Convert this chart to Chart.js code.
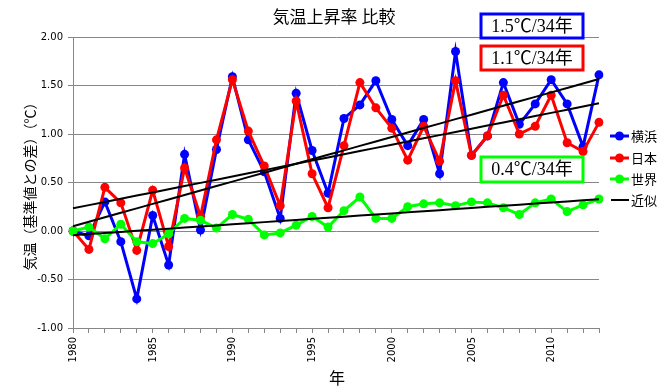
<!DOCTYPE html>
<html><head><meta charset="utf-8">
<script src="https://cdn.jsdelivr.net/npm/chart.js@4/dist/chart.umd.min.js"></script>
<style>html,body{margin:0;padding:0;background:#fff;}#wrap{width:665px;height:390px;}</style>
</head><body><div id="wrap"><canvas id="c" width="665" height="390"></canvas></div>
<script>
const years = ['1980','1981','1982','1983','1984','1985','1986','1987','1988','1989','1990','1991','1992','1993','1994','1995','1996','1997','1998','1999','2000','2001','2002','2003','2004','2005','2006','2007','2008','2009','2010','2011','2012','2013'];
const yokohama = [0.00,-0.05,0.30,-0.11,-0.70,0.16,-0.35,0.79,0.01,0.84,1.59,0.94,0.61,0.13,1.42,0.83,0.39,1.16,1.30,1.55,1.15,0.88,1.15,0.59,1.85,0.78,0.98,1.53,1.10,1.31,1.56,1.31,0.87,1.61];
const japan = [0.00,-0.19,0.45,0.29,-0.20,0.42,-0.16,0.65,0.15,0.94,1.56,1.03,0.67,0.26,1.34,0.59,0.24,0.88,1.53,1.27,1.06,0.73,1.08,0.72,1.55,0.78,0.98,1.40,1.00,1.08,1.40,0.91,0.82,1.12];
const world = [0.00,0.04,-0.08,0.07,-0.11,-0.13,-0.03,0.13,0.11,0.03,0.17,0.12,-0.04,-0.02,0.06,0.15,0.04,0.21,0.35,0.13,0.13,0.25,0.28,0.29,0.26,0.30,0.29,0.24,0.17,0.29,0.33,0.20,0.27,0.33];
const seriesNames = ['横浜','日本','世界'];
const trendName = '近似';
const rateLabels = ['1.5℃/34年','1.1℃/34年','0.4℃/34年'];
const chartTitle = '気温上昇率 比較';
const xTitle = '年';
const yTitle = '気温（基準値との差）（℃）';

const colors = ['#0000FF','#FF0000','#00FF00'];

function linFit(arr){
  const n = arr.length; let sx=0, sy=0, sxx=0, sxy=0;
  arr.forEach((y,i)=>{sx+=i;sy+=y;sxx+=i*i;sxy+=i*y;});
  const b=(n*sxy-sx*sy)/(n*sxx-sx*sx); const a=(sy-b*sx)/n;
  return arr.map((_,i)=>a+b*i);
}

const seriesData = [yokohama, japan, world];
const datasets = [];
seriesData.forEach((d,i)=>{
  datasets.push({label:seriesNames[i], data:d, borderColor:colors[i], backgroundColor:colors[i],
    borderWidth:3, pointRadius:4.5, pointBorderWidth:0, pointBackgroundColor:colors[i], order:3-i, tension:0});
});
seriesData.forEach((d,i)=>{
  datasets.push({label:trendName, data:linFit(d), borderColor:'#000', borderWidth:2, pointRadius:0, order:0});
});

const deco = {
  id:'deco',
  afterDraw(chart){
    const ctx = chart.ctx; ctx.save();
    // x tick labels (rotated)
    const xs = chart.scales.x;
    ctx.fillStyle='#000'; ctx.font='10px "DejaVu Sans"';
    ctx.textAlign='right'; ctx.textBaseline='middle';
    years.forEach((y,i)=>{
      if((+y)%5!==0) return;
      const px = xs.getPixelForValue(i);
      ctx.save(); ctx.translate(px+0.5, 337); ctx.rotate(-Math.PI/2); ctx.fillText(y,0,0); ctx.restore();
    });
    ctx.fillStyle='#000'; ctx.textAlign='center'; ctx.textBaseline='middle';
    ctx.font='17px "Noto Sans CJK JP"';
    ctx.fillText(chartTitle, 334, 17);
    ctx.font='16px "Noto Sans CJK JP"';
    ctx.fillText(xTitle, 337, 378);
    ctx.save(); ctx.translate(30,183); ctx.rotate(-Math.PI/2);
    ctx.font='14px "Noto Sans CJK JP"'; ctx.fillText(yTitle,0,0); ctx.restore();
    // legend
    const ly=[136,158,179,200];
    ctx.textAlign='left';
    ctx.font='13px "Noto Sans CJK JP"';
    for(let i=0;i<3;i++){
      ctx.strokeStyle=colors[i]; ctx.lineWidth=3;
      ctx.beginPath(); ctx.moveTo(610,ly[i]); ctx.lineTo(629,ly[i]); ctx.stroke();
      ctx.fillStyle=colors[i]; ctx.beginPath(); ctx.arc(619.5,ly[i],4.5,0,Math.PI*2); ctx.fill();
      ctx.fillStyle='#000'; ctx.fillText(seriesNames[i],631,ly[i]);
    }
    ctx.strokeStyle='#000'; ctx.lineWidth=2;
    ctx.beginPath(); ctx.moveTo(611,ly[3]); ctx.lineTo(629,ly[3]); ctx.stroke();
    ctx.fillText(trendName,631,ly[3]);
    // rate boxes
    const boxes=[[481,14,102,24],[481,46,102,24],[481,157,102,25]];
    ctx.font='18px "Liberation Serif", "Noto Sans CJK JP"';
    ctx.textAlign='center';
    boxes.forEach((b,i)=>{
      ctx.fillStyle='#fff'; ctx.fillRect(b[0],b[1],b[2],b[3]);
      ctx.strokeStyle=colors[i]; ctx.lineWidth=3; ctx.strokeRect(b[0],b[1],b[2],b[3]);
      ctx.fillStyle='#000'; ctx.fillText(rateLabels[i], b[0]+b[2]/2, b[1]+b[3]/2+1);
    });
    ctx.restore();
  }
};

new Chart(document.getElementById('c'), {
  type:'line',
  data:{labels:years, datasets},
  options:{
    responsive:false, animation:false,
    layout:{padding:{left:0,top:37,right:66,bottom:0}},
    plugins:{legend:{display:false}, tooltip:{enabled:false}, title:{display:false}},
    scales:{
      x:{type:'category', offset:false,
        grid:{drawOnChartArea:false, drawTicks:true, tickLength:5, color:'#878787', offset:false},
        border:{display:true, color:'#878787'},
        ticks:{autoSkip:false, maxRotation:0, minRotation:0, padding:0, color:'#000',
          font:{family:'DejaVu Sans', size:10},
          callback:function(){return '';}},
        afterFit(s){s.height=62;}
      },
      y:{min:-1, max:2,
        grid:{color:'#878787', tickLength:5, drawTicks:true},
        border:{display:true, color:'#878787'},
        ticks:{stepSize:0.5, padding:5, color:'#000', font:{family:'DejaVu Sans', size:10},
          callback:v=>v.toFixed(2)},
        afterFit(s){s.width=73;}
      }
    }
  },
  plugins:[deco]
});
</script></body></html>
